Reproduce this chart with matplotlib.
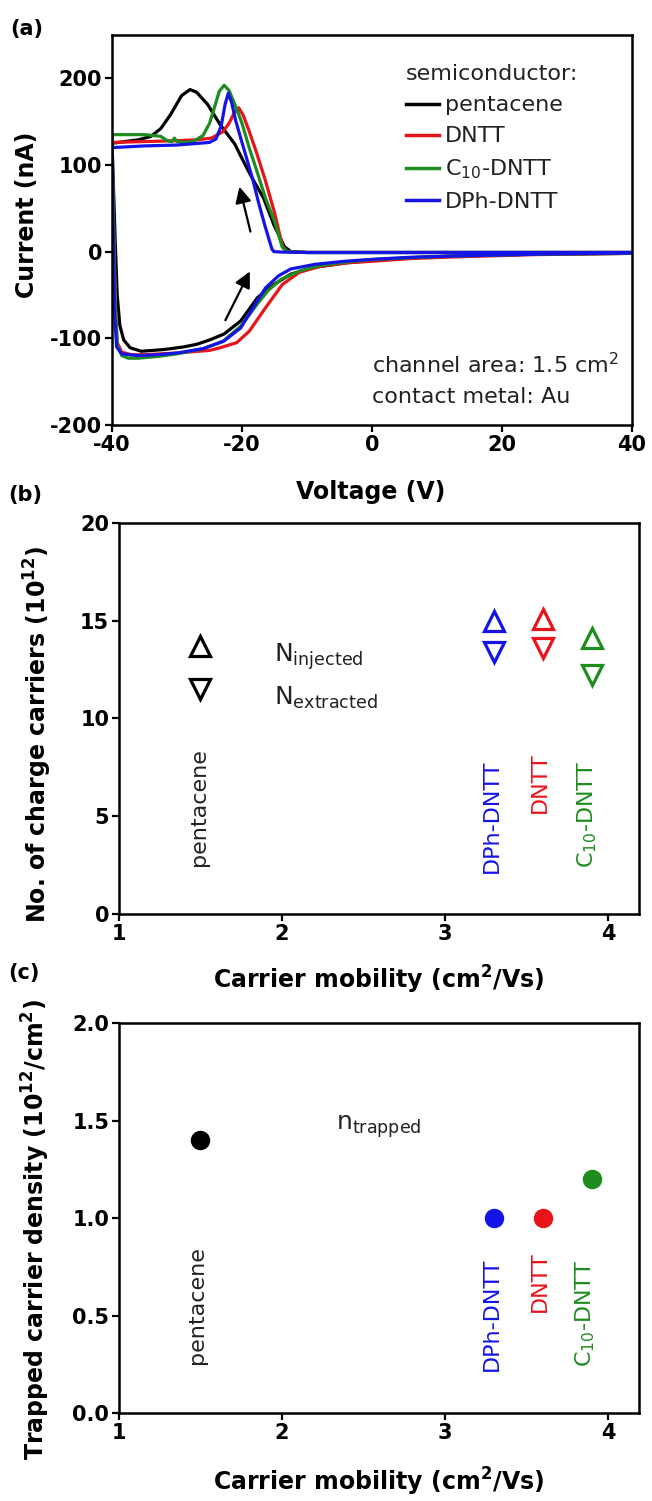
import matplotlib
matplotlib.use('Agg')
import matplotlib.pyplot as plt

plt.rcParams['axes.unicode_minus'] = False

# ---- panel (a): displacement current loops ----
materials = ['pentacene', 'DNTT', 'C$_{10}$-DNTT', 'DPh-DNTT']
colors = ['black', '#e8141c', '#1e8c1e', '#1414e6']

# each loop: sweep from +40 V down to -40 V (upper branch), then back to +40 V
pent_v = [40, 20, 0, -10, -12.5, -13.5, -15.1, -16.7, -18.3, -19.5, -21.1, -23.4, -25.3, -27, -28,
          -29.3, -31, -32.5, -34, -36, -38, -40,
          -39.8, -39.5, -39.2, -38.8, -38.2, -37.2, -35.5, -32, -29, -27, -25, -22.75, -20.2, -17.6,
          -15.1, -12.5, -8.7, -4, 0.3, 6, 13, 25, 40]
pent_i = [-1, -1, -1, -1, 0, 6, 31, 62, 83, 100, 124, 147, 170, 184, 187,
          180, 158, 142, 133, 129, 127, 125,
          80, 10, -50, -85, -102, -111, -115, -113, -110, -107, -102, -95, -80, -53,
          -38, -26, -18, -13, -10, -7, -5, -3, -2]

dntt_v = [40, 20, 0, -10, -13.2, -13.8, -15, -16.4, -17.8, -18.9, -19.8, -20.5, -21.2, -22, -23,
          -24.7, -27, -30, -35, -40,
          -39.8, -39.5, -39.2, -38.5, -37, -35, -30, -25, -23.4, -20.8, -18.9, -16.4, -13.8,
          -11.2, -8, -4, 0.3, 6, 13, 25, 40]
dntt_i = [-1, -1, -1, -1, 0, 7, 45, 82, 115, 139, 157, 166, 160, 148, 138,
          131, 129, 128, 127, 126,
          40, -60, -105, -116, -119, -119, -117, -114, -111, -105, -92, -65, -38,
          -24, -17, -13, -11, -8, -6, -3.5, -2]

c10_v = [40, 20, 0, -10, -13, -13.8, -15, -16.4, -17.8, -18.9, -20, -21, -22, -22.75, -23.5,
         -24.3, -25, -26, -27.5, -29, -30, -30.4, -30.8, -31.5, -32.5, -35, -38, -40,
         -39.8, -39.5, -39.2, -38.5, -37.5, -36, -33, -30, -26, -23, -20.2, -17.6, -16, -14,
         -11, -8, -4, 0.3, 6, 13, 25, 40]
c10_i = [-1, -1, -1, -1, 0, 5, 35, 62, 95, 120, 148, 168, 186, 192, 185,
         165, 148, 134, 127, 126, 127, 131, 127, 128, 133, 135, 135, 135,
         50, -60, -108, -120, -123, -123, -121, -118, -112, -104, -86, -60, -45, -32,
         -22, -16, -12, -9, -7, -5, -3, -2]

dph_v = [40, 20, 0, -10, -14, -15.1, -15.4, -16.4, -17.4, -18.3, -19.3, -20.2, -21, -21.6, -22.1,
         -22.6, -23.2, -24, -25, -30, -35, -40,
         -39.85, -39.6, -39.3, -38.5, -36, -33, -30, -26, -22.75, -20.2, -18.3, -16.4, -14.4,
         -12.5, -8.7, -4, 0.3, 6, 13, 25, 40]
dph_i = [-1, -1, -1, -1, -0.5, 0, 3, 28, 55, 82, 108, 131, 152, 172, 183,
         170, 145, 130, 126, 123, 122, 120,
         40, -70, -110, -118, -120, -119, -117, -112, -103, -88, -65, -42, -28,
         -20, -14.6, -11, -8.8, -6.5, -5, -3, -1.5]

loops_v = [pent_v, dntt_v, c10_v, dph_v]
loops_i = [pent_i, dntt_i, c10_i, dph_i]

# ---- panels (b) and (c) ----
mobility = [1.5, 3.6, 3.9, 3.3]          # pentacene, DNTT, C10-DNTT, DPh-DNTT
n_injected = [13.7, 15.1, 14.1, 15.0]
n_extracted = [11.5, 13.6, 12.2, 13.4]
n_trapped = [1.4, 1.0, 1.2, 1.0]

text_color = '#222222'

fig = plt.figure(figsize=(6.52, 15.01), dpi=100)
ax_a = fig.add_axes([0.1718, 0.7169, 0.7975, 0.2598])
ax_b = fig.add_axes([0.1825, 0.3911, 0.7975, 0.2605])
ax_c = fig.add_axes([0.1825, 0.0586, 0.7975, 0.2598])


def style_axes(ax):
    for side in ['left', 'right', 'top', 'bottom']:
        ax.spines[side].set_linewidth(1.8)
    ax.tick_params(direction='out', length=5, width=1.6, labelsize=15, pad=2)
    for lab in ax.get_xticklabels() + ax.get_yticklabels():
        lab.set_fontweight('bold')


# (a)
for v, i, c, name in zip(loops_v, loops_i, colors, materials):
    ax_a.plot(v, i, color=c, lw=2.3, label=name)
ax_a.set_xlim(-40, 40)
ax_a.set_ylim(-200, 250)
ax_a.set_xticks([-40, -20, 0, 20, 40])
ax_a.set_yticks([-200, -100, 0, 100, 200])
style_axes(ax_a)
ax_a.set_xlabel('Voltage (V)', fontsize=17, fontweight='bold', va='center')
ax_a.set_ylabel('Current (nA)', fontsize=17, fontweight='bold', va='center')
ax_a.xaxis.set_label_coords(0.498, -0.172)
ax_a.yaxis.set_label_coords(-0.163, 0.54)

leg = ax_a.legend(title='semiconductor:', loc='upper left', bbox_to_anchor=(0.565, 0.925),
                  frameon=False, fontsize=16, title_fontsize=16, handlelength=1.5,
                  handletextpad=0.25, labelspacing=0.5, borderpad=0, borderaxespad=0,
                  alignment='left')
for t in leg.get_texts():
    t.set_color(text_color)
leg.get_title().set_color(text_color)
for h in leg.legend_handles:
    h.set_linewidth(2.5)

ax_a.text(0, -130, 'channel area: 1.5 cm$^2$', fontsize=16, color=text_color, va='center')
ax_a.text(0, -168, 'contact metal: Au', fontsize=16, color=text_color, va='center')

arrow = dict(arrowstyle='-|>', lw=1.6, color='black', mutation_scale=24)
ax_a.annotate('', xy=(-20.5, 78), xytext=(-18.6, 20), arrowprops=arrow)
ax_a.annotate('', xy=(-18.6, -20), xytext=(-22.75, -82), arrowprops=arrow)

# (b)
for x, up, dn, c in zip(mobility, n_injected, n_extracted, colors):
    ax_b.plot(x, up, marker='^', ms=14, mfc='none', mec=c, mew=2.3, ls='none')
    ax_b.plot(x, dn, marker='v', ms=14, mfc='none', mec=c, mew=2.3, ls='none')
ax_b.set_xlim(1, 4.19)
ax_b.set_ylim(0, 20)
ax_b.set_xticks([1, 2, 3, 4])
ax_b.set_yticks([0, 5, 10, 15, 20])
style_axes(ax_b)
ax_b.set_xlabel('Carrier mobility (cm$^\\mathbf{2}$/Vs)', fontsize=17, fontweight='bold', va='center')
ax_b.set_ylabel('No. of charge carriers (10$^\\mathbf{12}$)', fontsize=17, fontweight='bold', va='center')
ax_b.xaxis.set_label_coords(0.50, -0.169)
ax_b.yaxis.set_label_coords(-0.156, 0.46)
ax_b.text(1.95, 12.9, 'N$_{\\mathrm{injected}}$', fontsize=18, color=text_color, va='baseline')
ax_b.text(1.95, 10.7, 'N$_{\\mathrm{extracted}}$', fontsize=18, color=text_color, va='baseline')

label_x_b = [1.49, 3.58, 3.87, 3.29]
label_y_b = [2.44, 5.17, 2.35, 2.1]
label_colors = [text_color, '#e8141c', '#1e8c1e', '#1414e6']
for x, y, name, c in zip(label_x_b, label_y_b, materials, label_colors):
    ax_b.text(x, y, name, rotation=90, ha='center', va='bottom', fontsize=16, color=c)

# (c)
for x, n, c in zip(mobility, n_trapped, colors):
    ax_c.plot(x, n, marker='o', ms=13, color=c, ls='none')
ax_c.set_xlim(1, 4.19)
ax_c.set_ylim(0, 2)
ax_c.set_xticks([1, 2, 3, 4])
ax_c.set_yticks([0, 0.5, 1.0, 1.5, 2.0])
ax_c.set_yticklabels(['0.0', '0.5', '1.0', '1.5', '2.0'])
style_axes(ax_c)
ax_c.set_xlabel('Carrier mobility (cm$^\\mathbf{2}$/Vs)', fontsize=17, fontweight='bold', va='center')
ax_c.set_ylabel('Trapped carrier density (10$^\\mathbf{12}$/cm$^\\mathbf{2}$)', fontsize=17,
                fontweight='bold', va='center')
ax_c.xaxis.set_label_coords(0.50, -0.177)
ax_c.yaxis.set_label_coords(-0.16, 0.47)
ax_c.text(2.33, 1.455, 'n$_{\\mathrm{trapped}}$', fontsize=18, color=text_color, va='baseline')

label_x_c = [1.48, 3.58, 3.86, 3.29]
label_y_c = [0.252, 0.517, 0.235, 0.218]
for x, y, name, c in zip(label_x_c, label_y_c, materials, label_colors):
    ax_c.text(x, y, name, rotation=90, ha='center', va='bottom', fontsize=16, color=c)

fig.text(0.015, 0.981, '(a)', fontsize=15, fontweight='bold', va='center')
fig.text(0.012, 0.670, '(b)', fontsize=15, fontweight='bold', va='center')
fig.text(0.012, 0.352, '(c)', fontsize=15, fontweight='bold', va='center')

plt.savefig('out.png', dpi=100)
